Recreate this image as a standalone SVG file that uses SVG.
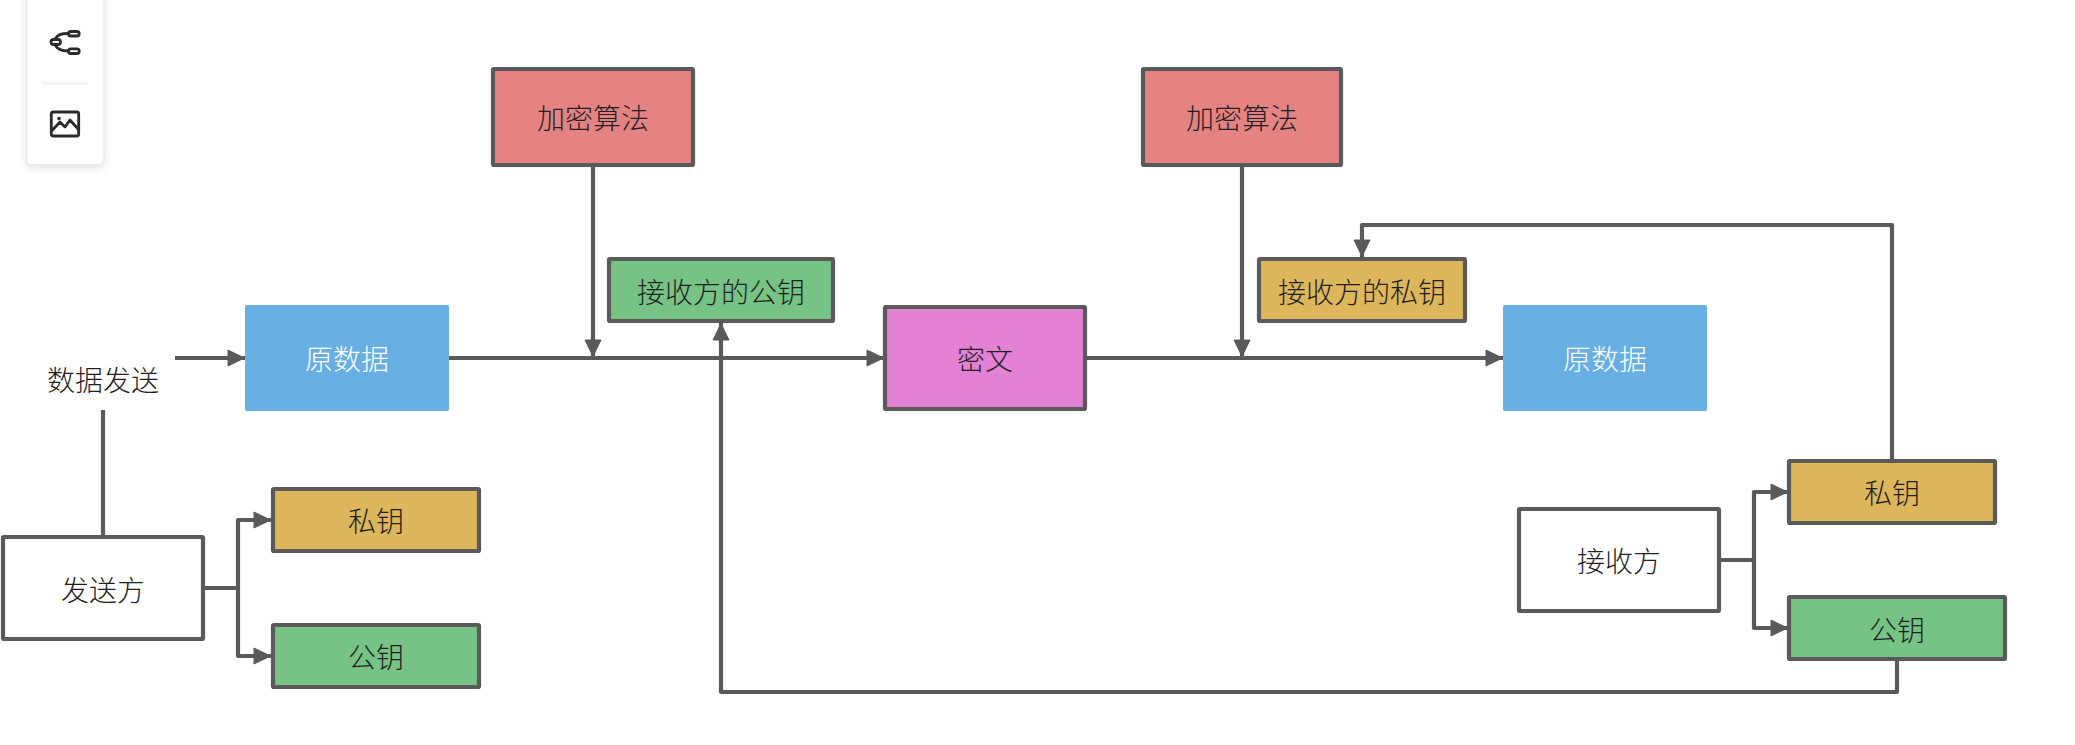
<svg xmlns="http://www.w3.org/2000/svg" width="2075" height="745" viewBox="0 0 2075 745">
<style>
.b{stroke:#5a5a5a;stroke-width:4.200}
.t{font-family:"Noto Sans CJK SC","Liberation Sans",sans-serif;font-size:28px;font-weight:300;fill:#1f1f1f;text-anchor:middle;dominant-baseline:central}
.w{fill:#fff}
.c{fill:none;stroke:#5a5a5a;stroke-width:4.200;stroke-linejoin:round}
.i{fill:none;stroke:#2b2b2b;stroke-width:2.800;stroke-linejoin:round}
</style>
<defs>
<marker id="a" markerUnits="userSpaceOnUse" markerWidth="20" markerHeight="20" refX="18" refY="10" orient="auto"><path d="M1 2L17.500 10L1 18Z" fill="#5a5a5a" stroke="#5a5a5a" stroke-width="1" stroke-linejoin="round"/></marker>
<filter id="s" x="-30%" y="-10%" width="160%" height="125%"><feDropShadow dx="0" dy="2" stdDeviation="4" flood-color="#000" flood-opacity=".12"/></filter>
</defs>
<rect width="2075" height="745" fill="#fff"/>
<g id="toolbar">
<rect x="26.500" y="-10" width="77.500" height="175" rx="5" fill="#fff" stroke="#e8e8e8" stroke-width="1.500" filter="url(#s)"/>
<rect x="51" y="39.500" width="9.500" height="5" rx="2.500" class="i"/><rect x="68.500" y="31.500" width="10.700" height="4.500" rx="2.200" class="i"/><rect x="68.500" y="48.800" width="10.700" height="4.700" rx="2.300" class="i"/>
<path d="M55 39C58 34 62 33.500 68 33.500M55 45C58 50 62 51 68 51" class="i"/>
<line x1="43" y1="83.500" x2="87" y2="83.500" stroke="#eef0f7" stroke-width="2"/>
<rect x="51.300" y="112" width="27.400" height="24" rx="2" class="i"/>
<path d="M51.500 131L60 122L65 127L70 120L79 130" class="i"/><circle cx="59" cy="118.500" r="1.800" fill="#2b2b2b"/>
</g>
<g id="connectors">
<path class="c" d="M175 358H245" marker-end="url(#a)"/>
<path class="c" d="M103 410V535"/>
<path class="c" d="M205 588H238"/>
<path class="c" d="M238 588V520H271" marker-end="url(#a)"/>
<path class="c" d="M238 588V656H271" marker-end="url(#a)"/>
<path class="c" d="M449 358H884" marker-end="url(#a)"/>
<path class="c" d="M593 165V357" marker-end="url(#a)"/>
<path class="c" d="M1897 660V692H721V323" marker-end="url(#a)"/>
<path class="c" d="M1086 358H1503" marker-end="url(#a)"/>
<path class="c" d="M1242 165V357" marker-end="url(#a)"/>
<path class="c" d="M1892 460V225H1362V257" marker-end="url(#a)"/>
<path class="c" d="M1720 560H1754"/>
<path class="c" d="M1754 560V492H1788" marker-end="url(#a)"/>
<path class="c" d="M1754 560V628H1788" marker-end="url(#a)"/>
</g>
<g id="n-send-label"><text class="t" x="103" y="379">数据发送</text></g>
<g id="n-raw1"><rect x="245" y="305" width="204" height="106" rx="2" fill="#68afe3"/><text class="t" style="fill:#fff" x="347" y="358">原数据</text></g>
<g id="n-sender"><rect class="b w" x="3" y="537" width="200" height="102" rx="1"/><text class="t" x="103" y="589">发送方</text></g>
<g id="n-priv1"><rect class="b" x="273" y="489" width="206" height="62" rx="1" fill="#deb65c"/><text class="t" x="376" y="520">私钥</text></g>
<g id="n-pub1"><rect class="b" x="273" y="625" width="206" height="62" rx="1" fill="#77c386"/><text class="t" x="376" y="656">公钥</text></g>
<g id="n-algo1"><rect class="b" x="493" y="69" width="200" height="96" rx="1" fill="#e58383"/><text class="t" x="593" y="117">加密算法</text></g>
<g id="n-recvpub"><rect class="b" x="609" y="259" width="224" height="62" rx="1" fill="#77c386"/><text class="t" x="721" y="291">接收方的公钥</text></g>
<g id="n-cipher"><rect class="b" x="885" y="307" width="200" height="102" rx="1" fill="#e381d4"/><text class="t" x="985" y="358">密文</text></g>
<g id="n-algo2"><rect class="b" x="1143" y="69" width="198" height="96" rx="1" fill="#e58383"/><text class="t" x="1242" y="117">加密算法</text></g>
<g id="n-recvpriv"><rect class="b" x="1259" y="259" width="206" height="62" rx="1" fill="#deb65c"/><text class="t" x="1362" y="291">接收方的私钥</text></g>
<g id="n-raw2"><rect x="1503" y="305" width="204" height="106" rx="2" fill="#68afe3"/><text class="t" style="fill:#fff" x="1605" y="358">原数据</text></g>
<g id="n-receiver"><rect class="b w" x="1519" y="509" width="200" height="102" rx="1"/><text class="t" x="1619" y="560">接收方</text></g>
<g id="n-priv2"><rect class="b" x="1789" y="461" width="206" height="62" rx="1" fill="#deb65c"/><text class="t" x="1892" y="492">私钥</text></g>
<g id="n-pub2"><rect class="b" x="1789" y="597" width="216" height="62" rx="1" fill="#77c386"/><text class="t" x="1897" y="629">公钥</text></g>
</svg>
